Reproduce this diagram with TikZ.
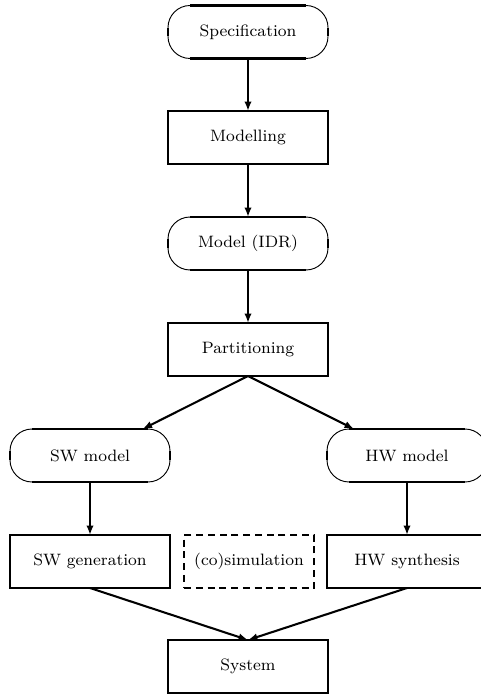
\documentclass[tikz,border=0pt]{standalone}
\usetikzlibrary{arrows.meta}
\begin{document}
\begin{tikzpicture}[x=0.485pt, y=-0.485pt,
  font=\fontsize{8}{9.6}\selectfont,
  box/.style={draw, line width=1.15pt, minimum width=77.6pt, minimum height=25.7pt, outer sep=0pt, inner sep=0pt},
  pill/.style={draw, line width=0.45pt, rounded corners=10.7pt, minimum width=77.6pt, minimum height=25.7pt, outer sep=0pt, inner sep=0pt},
  simbox/.style={draw, line width=1.2pt, dash pattern=on 3.4pt off 2.3pt, minimum width=63pt, minimum height=25.7pt, outer sep=0pt, inner sep=0pt},
  side/.style={line width=1.2pt, line cap=butt},
  flow/.style={line width=1.0pt, -{Latex[length=4.6pt,width=3.6pt]}}]
\useasboundingbox (0,0) rectangle (481,694);
\fill[white] (0,0) rectangle (481,694);
\clip (0,0) rectangle (481,694);

% design flow stages
\node[pill] (spec) at (248,32)    {Specification};
\node[box]  (mod)  at (248,137.5) {Modelling};
\node[pill] (idr)  at (248,243.5) {Model (IDR)};
\node[box]  (part) at (248,349.5) {Partitioning};
\node[pill] (swm)  at (90,455.5)  {SW model};
\node[pill] (hwm)  at (407,455.5) {HW model};
\node[box]  (swg)  at (90,561.5)  {SW generation};
\node[simbox] (cosim) at (249,561.5) {(co)simulation};
\node[box]  (hws)  at (407,561.5) {HW synthesis};
\node[box]  (sys)  at (248,666.5) {System};

% heavier straight sides on the rounded stages
\foreach \n in {spec,idr,swm,hwm} {
  \draw[side] ([xshift=10.7pt]\n.north west) -- ([xshift=-10.7pt]\n.north east);
  \draw[side] ([xshift=10.7pt]\n.south west) -- ([xshift=-10.7pt]\n.south east);
  \draw[side] ([yshift=-10.7pt]\n.north west) -- ([yshift=10.7pt]\n.south west);
  \draw[side] ([yshift=-10.7pt]\n.north east) -- ([yshift=10.7pt]\n.south east);
}

% connectors
\draw[flow] (spec.south) -- (mod.north);
\draw[flow] (mod.south) -- (idr.north);
\draw[flow] (idr.south) -- (part.north);
\draw[flow] (part.south) -- (swm);
\draw[flow] (part.south) -- (hwm);
\draw[flow] (swm.south) -- (swg.north);
\draw[flow] (hwm.south) -- (hws.north);
\draw[flow] (swg.south) -- (sys.north);
\draw[flow] (hws.south) -- (sys.north);
\end{tikzpicture}
\end{document}
